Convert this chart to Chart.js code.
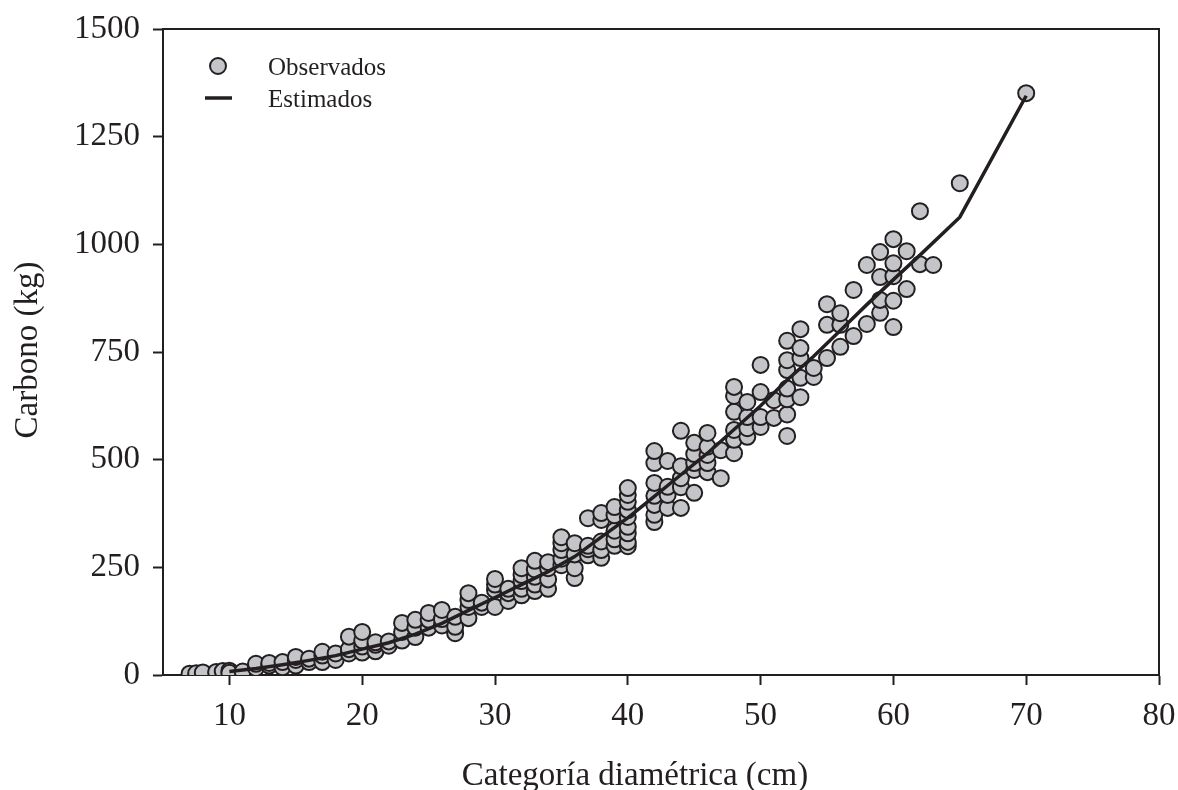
<!DOCTYPE html>
<html lang="es">
<head>
<meta charset="utf-8">
<title>Carbono por categoría diamétrica</title>
<script src="https://cdn.jsdelivr.net/npm/chart.js@4.4.1/dist/chart.umd.min.js"></script>
<style>
    html, body { margin: 0; padding: 0; background: #ffffff; }
    #wrap { width: 1178px; height: 790px; position: relative; }
</style>
</head>
<body>
<div id="wrap"><canvas id="carbonChart"></canvas></div>
<script>
// Chart data

// Observed trees: diameter class (cm) and carbon (kg), paired by index
const obsDiameter = [
    7, 7.5, 8, 9, 9.5, 10, 10,
    11, 12, 12, 13, 13, 14, 14, 15, 15, 15, 16, 16, 17, 17, 17, 18, 18,
    19, 19, 19, 20, 20, 20, 20, 21, 21, 21, 22, 22, 23, 23, 23, 24, 24, 24,
    25, 25, 25, 26, 26, 26, 27, 27, 27, 28, 28, 28, 28, 29, 29,
    30, 30, 30, 30, 31, 31, 31, 32, 32, 32, 32, 32, 33, 33, 33, 33, 33,
    34, 34, 34, 34, 35, 35, 35, 35, 35, 36, 36, 36, 36, 37, 37, 37, 37,
    38, 38, 38, 38, 38, 39, 39, 39, 39, 39,
    40, 40, 40, 40, 40, 40, 40, 40, 40,
    42, 42, 42, 42, 42, 42, 42, 43, 43, 43, 43, 44, 44, 44, 44, 44,
    45, 45, 45, 45, 45, 46, 46, 46, 46, 46, 47, 47,
    48, 48, 48, 48, 48, 48, 49, 49, 49, 49, 50, 50, 50, 50, 51, 51,
    52, 52, 52, 52, 52, 52, 52, 53, 53, 53, 53, 53, 54, 54,
    55, 55, 55, 56, 56, 56, 57, 57, 58, 58, 59, 59, 59, 59,
    60, 60, 60, 60, 60, 61, 61, 62, 62, 63, 65, 70
];
const obsCarbon = [
    3, 4, 6, 7, 9, 10, 5,
    8, 16, 26, 22, 28, 18, 30, 22, 35, 42, 30, 38, 30, 45, 54, 35, 50,
    50, 60, 89, 52, 66, 80, 100, 55, 70, 76, 68, 78, 80, 100, 121, 88, 110, 128,
    110, 128, 144, 115, 130, 151, 97, 112, 135, 132, 158, 174, 190, 158, 168,
    158, 197, 210, 223, 172, 190, 200, 185, 200, 218, 232, 248, 195, 210, 228, 245, 265,
    200, 222, 248, 262, 255, 270, 290, 306, 320, 225, 248, 280, 306, 278, 292, 300, 364,
    272, 290, 310, 360, 376, 300, 315, 335, 371, 390,
    299, 309, 329, 344, 367, 383, 402, 418, 434,
    355, 372, 395, 416, 446, 492, 520, 388, 418, 437, 497, 388, 436, 457, 485, 567,
    423, 476, 492, 513, 539, 471, 492, 511, 530, 562, 457, 522,
    515, 546, 569, 611, 648, 669, 553, 573, 599, 634, 576, 599, 657, 720, 597, 638,
    555, 605, 640, 665, 708, 731, 776, 645, 690, 736, 759, 803, 692, 713,
    736, 813, 861, 762, 813, 840, 787, 894, 815, 952, 841, 871, 924, 982,
    808, 869, 926, 956, 1012, 896, 984, 954, 1077, 952, 1142, 1351
];

// Estimated (model) curve
const estDiameter = [10, 12, 14, 16, 18, 20, 22, 24, 26, 28, 30, 32, 34, 36, 38, 40,
    42, 44, 46, 48, 50, 52, 54, 56, 58, 60, 62, 65, 70];
const estCarbon = [8, 15, 24, 34, 45, 60, 75, 95, 120, 150, 180, 210, 240, 275, 320, 365,
    415, 465, 515, 570, 625, 685, 740, 800, 860, 918, 975, 1063, 1345];

// Axis ticks
const xTickValues = [10, 20, 30, 40, 50, 60, 70, 80];
const yTickValues = [0, 250, 500, 750, 1000, 1250, 1500];

const xTitle = 'Categoría diamétrica (cm)';
const yTitle = 'Carbono (kg)';

const INK = '#231f20';
const SERIF = "'Liberation Serif', 'DejaVu Serif', serif";

Chart.defaults.color = INK;
Chart.defaults.font.family = SERIF;
Chart.defaults.font.size = 33;

// Frame on top/right, axis titles and the legend inside the plot
const decorPlugin = {
    id: 'decor',
    afterDraw(chart) {
        const ctx = chart.ctx;
        const a = chart.chartArea;
        ctx.save();

        // top and right border
        ctx.strokeStyle = INK;
        ctx.lineWidth = 2;
        ctx.beginPath();
        ctx.moveTo(a.left, a.top);
        ctx.lineTo(a.right, a.top);
        ctx.lineTo(a.right, a.bottom);
        ctx.stroke();

        // axis titles
        ctx.fillStyle = INK;
        ctx.font = '33px ' + SERIF;
        ctx.textAlign = 'center';
        ctx.textBaseline = 'alphabetic';
        ctx.fillText(xTitle, 635, 785);

        ctx.translate(37, 350);
        ctx.rotate(-Math.PI / 2);
        ctx.fillText(yTitle, 0, 0);
        ctx.restore();

        // legend
        const obs = chart.data.datasets[0];
        const est = chart.data.datasets[1];
        ctx.save();
        ctx.font = '25px ' + SERIF;
        ctx.textAlign = 'left';
        ctx.textBaseline = 'middle';

        ctx.beginPath();
        ctx.arc(218, 66, 8, 0, Math.PI * 2);
        ctx.fillStyle = obs.backgroundColor;
        ctx.fill();
        ctx.lineWidth = 2;
        ctx.strokeStyle = obs.borderColor;
        ctx.stroke();
        ctx.fillStyle = INK;
        ctx.fillText(obs.label, 268, 68);

        ctx.beginPath();
        ctx.moveTo(205, 98);
        ctx.lineTo(232, 98);
        ctx.lineWidth = 3.5;
        ctx.strokeStyle = est.borderColor;
        ctx.stroke();
        ctx.fillText(est.label, 268, 100);
        ctx.restore();
    }
};

document.addEventListener('DOMContentLoaded', () => {
    initChart();
});

function initChart() {
    const ctx = document.getElementById('carbonChart').getContext('2d');

    new Chart(ctx, {
        type: 'scatter',
        data: {
            datasets: [{
                label: 'Observados',
                data: obsDiameter.map((d, i) => ({ x: d, y: obsCarbon[i] })),
                backgroundColor: '#c4c5c9',
                borderColor: INK,
                borderWidth: 2,
                pointRadius: 8,
                order: 1
            }, {
                type: 'line',
                label: 'Estimados',
                data: estDiameter.map((d, i) => ({ x: d, y: estCarbon[i] })),
                borderColor: INK,
                borderWidth: 3.5,
                pointRadius: 0,
                fill: false,
                tension: 0,
                order: 0
            }]
        },
        options: {
            responsive: true,
            maintainAspectRatio: false,
            animation: false,
            layout: {
                padding: { top: 29, right: 19, left: 0, bottom: 0 }
            },
            scales: {
                x: {
                    type: 'linear',
                    min: 5,
                    max: 80,
                    afterBuildTicks: (scale) => {
                        scale.ticks = xTickValues.map(v => ({ value: v }));
                    },
                    afterFit: (scale) => {
                        scale.height = 115;
                        scale.paddingLeft = 0;
                        scale.paddingRight = 0;
                    },
                    grid: {
                        drawOnChartArea: false,
                        tickLength: 10,
                        tickColor: INK,
                        tickWidth: 2
                    },
                    border: { color: INK, width: 2 },
                    ticks: { padding: 12, color: INK, maxRotation: 0 }
                },
                y: {
                    min: 0,
                    max: 1500,
                    afterBuildTicks: (scale) => {
                        scale.ticks = yTickValues.map(v => ({ value: v }));
                    },
                    afterFit: (scale) => {
                        scale.width = 163;
                        scale.paddingTop = 0;
                        scale.paddingBottom = 0;
                    },
                    grid: {
                        drawOnChartArea: false,
                        tickLength: 10,
                        tickColor: INK,
                        tickWidth: 2
                    },
                    border: { color: INK, width: 2 },
                    ticks: {
                        padding: 13,
                        color: INK,
                        callback: (value) => String(value)
                    }
                }
            },
            plugins: {
                legend: { display: false },
                tooltip: { enabled: false }
            }
        },
        plugins: [decorPlugin]
    });
}
</script>
</body>
</html>
